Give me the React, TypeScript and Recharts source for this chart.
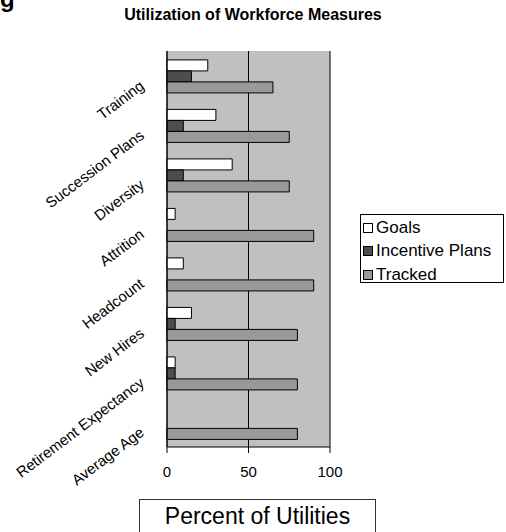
import React from 'react';
import { BarChart, Bar, XAxis, YAxis, CartesianGrid } from 'recharts';

const FONT = '"Liberation Sans", Arial, sans-serif';

const categories = [
  'Training',
  'Succession Plans',
  'Diversity',
  'Attrition',
  'Headcount',
  'New Hires',
  'Retirement Expectancy',
  'Average Age',
];
const goals = [25, 30, 40, 5, 10, 15, 5, 0];
const incentivePlans = [15, 10, 10, 0, 0, 5, 5, 0];
const tracked = [65, 75, 75, 90, 90, 80, 80, 80];
const xTicks = [0, 50, 100];
const boundaryTicks = [0, 1, 2, 3, 4, 5, 6, 7, 8];

const series = [
  { key: 'goals', name: 'Goals', fill: '#FFFFFF' },
  { key: 'incentive', name: 'Incentive Plans', fill: '#4D4D4D' },
  { key: 'tracked', name: 'Tracked', fill: '#999999' },
];

const data = categories.map((c, i) => ({
  cat: c,
  goals: goals[i],
  incentive: incentivePlans[i],
  tracked: tracked[i],
}));

const CatTick = (props: any) => {
  const { x, y, payload } = props;
  return (
    <g transform={`translate(${x - 25},${y + 8})`}>
      <text
        textAnchor="end"
        transform="rotate(-37)"
        fontSize={15}
        fontFamily={FONT}
        fill="#000"
        dy="0.35em"
      >
        {payload.value}
      </text>
    </g>
  );
};

const AxisTitle = (props: any) => {
  const vb = props.viewBox || { x: 167, y: 447 };
  const left = vb.x - 27.5;
  const top = vb.y + 52.5;
  return (
    <g>
      <rect x={left} y={top} width={236} height={40} fill="#fff" stroke="#333" />
      <text
        x={left + 118}
        y={top + 24}
        textAnchor="middle"
        fontSize={23}
        fontFamily={FONT}
        fill="#000"
      >
        Percent of Utilities
      </text>
    </g>
  );
};

export default function App() {
  return (
    <div style={{ position: 'absolute', left: 0, top: 0, width: 506, height: 532, background: '#fff', fontFamily: FONT, overflow: 'hidden' }}>
      <div style={{ position: 'absolute', left: 0, top: -12, fontSize: 24, fontWeight: 'bold', lineHeight: '22px' }}>g</div>
      <div style={{ position: 'absolute', left: 0, width: 506, top: 5, textAlign: 'center', fontSize: 16, fontWeight: 'bold', lineHeight: '20px' }}>
        Utilization of Workforce Measures
      </div>
      <div style={{ position: 'absolute', left: 0, top: 0 }}>
        <BarChart
          width={506}
          height={532}
          data={data}
          layout="vertical"
          margin={{ top: 51, right: 176, bottom: 0, left: 0 }}
          barCategoryGap="18%"
          barGap={0}
        >
          <CartesianGrid horizontal={false} stroke="#000" fill="#C0C0C0" fillOpacity={1} />
          <XAxis
            type="number"
            domain={[0, 100]}
            ticks={xTicks}
            tickSize={6}
            tickMargin={13}
            height={85}
            axisLine={{ stroke: '#000' }}
            tickLine={{ stroke: '#000' }}
            tick={{ fontSize: 15, fontFamily: FONT, fill: '#000' }}
            label={<AxisTitle />}
          />
          <XAxis
            xAxisId="top"
            orientation="top"
            type="number"
            domain={[0, 100]}
            height={0}
            tick={false}
            tickLine={false}
            axisLine={{ stroke: '#808080' }}
          />
          <YAxis
            yAxisId="bounds"
            type="number"
            domain={[0, 8]}
            ticks={boundaryTicks}
            allowDataOverflow
            width={0}
            tick={false}
            tickSize={5}
            tickLine={{ stroke: '#000' }}
            axisLine={false}
          />
          <YAxis
            type="category"
            dataKey="cat"
            width={167}
            interval={0}
            tickSize={0}
            tickMargin={0}
            tickLine={false}
            axisLine={{ stroke: '#000' }}
            tick={<CatTick />}
          />
          <YAxis
            yAxisId="right"
            orientation="right"
            type="category"
            dataKey="cat"
            width={0}
            tick={false}
            tickLine={false}
            axisLine={{ stroke: '#808080' }}
          />
          {series.map((s) => (
            <Bar
              key={s.key}
              dataKey={s.key}
              name={s.name}
              fill={s.fill}
              stroke="#000"
              strokeWidth={1}
              isAnimationActive={false}
            />
          ))}
        </BarChart>
      </div>
      <div
        style={{
          position: 'absolute',
          left: 360,
          top: 214,
          width: 142,
          height: 67,
          border: '1px solid #000',
          background: '#fff',
        }}
      >
        {series.map((s, i) => (
          <div
            key={s.key}
            style={{
              position: 'absolute',
              left: 2,
              top: 1 + i * 23.5,
              height: 23,
              display: 'flex',
              alignItems: 'center',
              fontSize: 17,
              whiteSpace: 'nowrap',
            }}
          >
            <span
              style={{
                display: 'inline-block',
                width: 8,
                height: 8,
                border: '1px solid #000',
                background: s.fill,
                marginRight: 3,
              }}
            />
            {s.name}
          </div>
        ))}
      </div>
    </div>
  );
}
